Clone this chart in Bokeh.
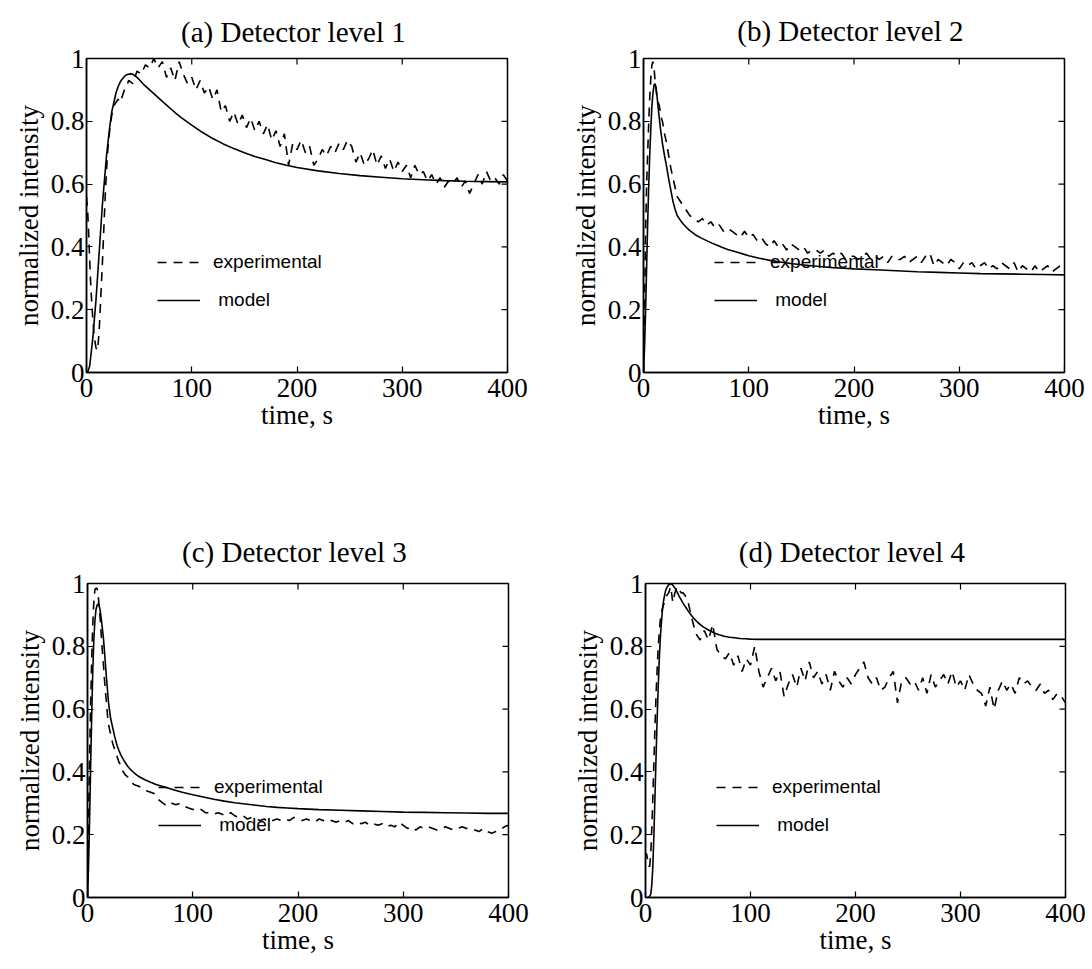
import math
from bokeh.plotting import figure
from bokeh.layouts import column, row
from bokeh.models import Range1d, FixedTicker, Legend, LegendItem, Spacer
from bokeh.embed import file_html
from bokeh.resources import INLINE

# ---------------- data ----------------
titles = ["(a) Detector  level 1", "(b) Detector  level 2",
          "(c) Detector  level 3", "(d) Detector  level 4"]
x_ticks = [0, 100, 200, 300, 400]
y_ticks = [0, 0.2, 0.4, 0.6, 0.8, 1]
y_tick_labels = ["0", "0.2", "0.4", "0.6", "0.8", "1"]

t_model = [0, 1, 2, 3, 4, 5, 6, 7, 8, 9, 10, 11, 12, 13, 14, 15, 16, 17, 18, 19, 20,
           22, 24, 26, 28, 30, 32, 34, 36, 38, 40, 42, 44, 46, 48, 50,
           55, 60, 65, 70, 75, 80, 85, 90, 95, 100,
           110, 120, 130, 140, 150, 160, 170, 180, 190, 200,
           220, 240, 260, 280, 300, 320, 340, 360, 380, 400]

model_a = [0, 0.0, 0.01, 0.02, 0.05, 0.08, 0.11, 0.15, 0.19, 0.23, 0.28, 0.33, 0.38, 0.43, 0.48, 0.53, 0.57, 0.61, 0.65, 0.69, 0.72,
           0.78, 0.83, 0.86, 0.89, 0.91, 0.925, 0.935, 0.943, 0.948, 0.95, 0.951, 0.95, 0.945, 0.94, 0.933,
           0.915, 0.90, 0.885, 0.87, 0.855, 0.84, 0.825, 0.812, 0.8, 0.788,
           0.765, 0.745, 0.728, 0.713, 0.70, 0.688, 0.678, 0.668, 0.66, 0.653,
           0.642, 0.634, 0.627, 0.622, 0.617, 0.614, 0.611, 0.609, 0.608, 0.607]
model_b = [0, 0.08, 0.2, 0.34, 0.48, 0.6, 0.7, 0.78, 0.85, 0.89, 0.915, 0.92, 0.905, 0.875, 0.84, 0.81, 0.78, 0.755, 0.73, 0.71, 0.69,
           0.655, 0.615, 0.58, 0.545, 0.52, 0.5, 0.49, 0.48, 0.472, 0.465, 0.458, 0.452, 0.447, 0.442, 0.437,
           0.428, 0.42, 0.412, 0.405, 0.398, 0.392, 0.387, 0.382, 0.377, 0.372,
           0.364, 0.357, 0.352, 0.347, 0.343, 0.34, 0.337, 0.334, 0.332, 0.33,
           0.327, 0.324, 0.321, 0.319, 0.317, 0.315, 0.314, 0.313, 0.312, 0.311]
model_c = [0, 0.1, 0.25, 0.42, 0.58, 0.72, 0.82, 0.88, 0.915, 0.93, 0.935, 0.93, 0.915, 0.89, 0.86, 0.83, 0.79, 0.745, 0.70, 0.66, 0.62,
           0.57, 0.54, 0.51, 0.485, 0.467, 0.452, 0.44, 0.429, 0.419, 0.411, 0.404, 0.398, 0.392, 0.387, 0.383,
           0.374, 0.367, 0.36, 0.355, 0.35, 0.345, 0.34, 0.335, 0.331, 0.327,
           0.32, 0.313, 0.307, 0.302, 0.298, 0.294, 0.29, 0.287, 0.285, 0.283,
           0.28, 0.278, 0.276, 0.274, 0.272, 0.271, 0.27, 0.269, 0.268, 0.268]
model_d = [0, 0, 0, 0, 0.005, 0.01, 0.04, 0.1, 0.2, 0.32, 0.44, 0.56, 0.66, 0.75, 0.82, 0.87, 0.91, 0.94, 0.96, 0.975, 0.985,
           0.996, 1.0, 0.995, 0.985, 0.973, 0.96, 0.948, 0.936, 0.926, 0.916, 0.906, 0.897, 0.889, 0.882, 0.875,
           0.862, 0.852, 0.843, 0.837, 0.832, 0.829, 0.827, 0.825, 0.824, 0.823,
           0.822, 0.822, 0.822, 0.822, 0.822, 0.822, 0.822, 0.822, 0.822, 0.822,
           0.822, 0.822, 0.822, 0.822, 0.822, 0.822, 0.822, 0.822, 0.822, 0.822]

# experimental sampling times (s)
t_exp = list(range(0, 21)) + list(range(22, 41, 2)) + list(range(44, 401, 4))

exp_a = ([0.56, 0.52, 0.45, 0.36, 0.28, 0.22, 0.17, 0.13, 0.10, 0.08, 0.07, 0.09, 0.13, 0.20, 0.27, 0.34, 0.42, 0.50, 0.58, 0.64, 0.70]
         + [0.77, 0.82, 0.85, 0.86, 0.87, 0.86, 0.88, 0.90, 0.91, 0.93]
         + [0.92, 0.96, 0.95, 0.98, 0.97, 1.00, 0.97, 0.99, 0.94, 0.97,
            0.93, 0.99, 0.95, 0.92, 0.94, 0.90, 0.93, 0.89, 0.91, 0.87,
            0.90, 0.83, 0.85, 0.80, 0.83, 0.79, 0.82, 0.78, 0.81, 0.77,
            0.80, 0.76, 0.79, 0.74, 0.77, 0.72, 0.76, 0.66, 0.73, 0.71,
            0.74, 0.70, 0.72, 0.66, 0.68, 0.71, 0.69, 0.72, 0.70, 0.73,
            0.71, 0.74, 0.72, 0.67, 0.70, 0.66, 0.68, 0.71, 0.66, 0.69,
            0.65, 0.68, 0.64, 0.67, 0.64, 0.66, 0.62, 0.66, 0.63, 0.64,
            0.61, 0.63, 0.60, 0.62, 0.59, 0.61, 0.60, 0.62, 0.59, 0.61,
            0.57, 0.60, 0.63, 0.60, 0.64, 0.61, 0.62, 0.60, 0.63, 0.61])
exp_b = ([0.0, 0.2, 0.45, 0.6, 0.7, 0.8, 0.88, 0.94, 0.98, 0.99, 0.97, 0.93, 0.9, 0.87, 0.86, 0.85, 0.83, 0.81, 0.8, 0.78, 0.76]
         + [0.73, 0.69, 0.65, 0.62, 0.59, 0.56, 0.55, 0.54, 0.53, 0.52]
         + [0.50, 0.49, 0.48, 0.49, 0.47, 0.48, 0.46, 0.47, 0.45, 0.46,
            0.45, 0.44, 0.43, 0.45, 0.43, 0.44, 0.42, 0.43, 0.41, 0.40,
            0.42, 0.40, 0.41, 0.39, 0.41, 0.40, 0.39, 0.40, 0.38, 0.39,
            0.39, 0.38, 0.39, 0.37, 0.38, 0.37, 0.38, 0.36, 0.37, 0.37,
            0.36, 0.37, 0.38, 0.36, 0.37, 0.36, 0.37, 0.35, 0.37, 0.36,
            0.36, 0.37, 0.35, 0.36, 0.37, 0.35, 0.37, 0.38, 0.34, 0.36,
            0.35, 0.34, 0.36, 0.35, 0.33, 0.35, 0.34, 0.35, 0.33, 0.34,
            0.35, 0.33, 0.34, 0.33, 0.35, 0.34, 0.33, 0.35, 0.32, 0.34,
            0.33, 0.32, 0.34, 0.32, 0.33, 0.34, 0.32, 0.33, 0.34, 0.33])
exp_c = ([0.0, 0.25, 0.45, 0.62, 0.76, 0.87, 0.94, 0.98, 0.985, 0.985, 0.97, 0.93, 0.89, 0.84, 0.79, 0.75, 0.70, 0.66, 0.62, 0.58, 0.55]
         + [0.52, 0.49, 0.47, 0.45, 0.43, 0.42, 0.40, 0.39, 0.385, 0.375]
         + [0.36, 0.355, 0.35, 0.34, 0.335, 0.33, 0.31, 0.30, 0.29, 0.30,
            0.295, 0.30, 0.29, 0.285, 0.28, 0.285, 0.28, 0.27, 0.27, 0.265,
            0.27, 0.265, 0.26, 0.27, 0.26, 0.255, 0.26, 0.25, 0.255, 0.25,
            0.245, 0.25, 0.24, 0.245, 0.25, 0.245, 0.25, 0.245, 0.255, 0.25,
            0.245, 0.25, 0.245, 0.24, 0.25, 0.245, 0.24, 0.245, 0.24, 0.245,
            0.24, 0.245, 0.235, 0.24, 0.235, 0.24, 0.23, 0.235, 0.23, 0.235,
            0.225, 0.23, 0.225, 0.24, 0.23, 0.22, 0.225, 0.215, 0.225, 0.22,
            0.225, 0.22, 0.215, 0.22, 0.225, 0.22, 0.215, 0.22, 0.225, 0.22,
            0.22, 0.215, 0.21, 0.22, 0.21, 0.205, 0.21, 0.215, 0.225, 0.23])
exp_d = ([0.13, 0.14, 0.12, 0.10, 0.10, 0.14, 0.22, 0.32, 0.43, 0.54, 0.64, 0.72, 0.79, 0.84, 0.88, 0.90, 0.92, 0.93, 0.94, 0.95, 0.96]
         + [0.97, 0.99, 0.94, 0.97, 0.99, 0.98, 0.97, 0.97, 0.96, 0.95]
         + [0.89, 0.84, 0.82, 0.85, 0.82, 0.87, 0.79, 0.77, 0.76, 0.78,
            0.74, 0.77, 0.72, 0.76, 0.74, 0.80, 0.72, 0.67, 0.70, 0.73,
            0.69, 0.72, 0.64, 0.68, 0.71, 0.67, 0.73, 0.69, 0.75, 0.70,
            0.72, 0.68, 0.71, 0.66, 0.72, 0.69, 0.67, 0.70, 0.68, 0.71,
            0.73, 0.75, 0.70, 0.68, 0.70, 0.66, 0.67, 0.70, 0.72, 0.62,
            0.69, 0.70, 0.68, 0.69, 0.66, 0.70, 0.65, 0.71, 0.67, 0.69,
            0.71, 0.68, 0.72, 0.67, 0.69, 0.66, 0.71, 0.68, 0.66, 0.65,
            0.61, 0.67, 0.60, 0.66, 0.69, 0.66, 0.68, 0.65, 0.70, 0.68,
            0.69, 0.67, 0.66, 0.68, 0.65, 0.66, 0.63, 0.65, 0.64, 0.62])

models = [model_a, model_b, model_c, model_d]
exps = [exp_a, exp_b, exp_c, exp_d]

# ---------------- styling ----------------
SERIF = "Liberation Serif"
SANS = "Liberation Sans"
FS = "27px"
TITLE_FS = "29px"

# (width, height, left, right, top, bottom, title standoff) for each panel
geoms = [(546, 470, 86, 39, 53, 98, 22),
         (546, 470, 97, 28, 58, 96, 24),
         (546, 451, 87, 38, 64, 72, 31),
         (546, 451, 99, 27, 65, 71, 31)]


def style_axis(ax):
    ax.axis_line_color = "black"
    ax.axis_line_width = 1.5
    ax.major_tick_in = 6
    ax.major_tick_out = 0
    ax.major_tick_line_color = "black"
    ax.major_tick_line_width = 1.2
    ax.minor_tick_line_color = None
    ax.major_label_text_font = SERIF
    ax.major_label_text_color = "black"
    ax.major_label_text_font_size = FS
    ax.axis_label_text_font = SERIF
    ax.axis_label_text_font_size = FS
    ax.axis_label_text_font_style = "normal"
    ax.axis_label_text_color = "black"
    ax.axis_label_standoff = 0


def make_panel(i):
    w, h, bl, br, bt, bb, ts = geoms[i]
    p = figure(width=w, height=h, output_backend="svg", toolbar_location=None,
               x_range=Range1d(0, 400), y_range=Range1d(0, 1),
               min_border_left=bl, min_border_right=br,
               min_border_top=bt, min_border_bottom=bb,
               x_axis_label="time, s", y_axis_label="normalized intensity")
    p.background_fill_color = "white"
    p.border_fill_color = "white"
    p.outline_line_color = "black"
    p.outline_line_width = 1.5
    p.xgrid.visible = False
    p.ygrid.visible = False

    p.title.text = titles[i]
    p.title.text_font = SERIF
    p.title.text_font_size = TITLE_FS
    p.title.text_font_style = "normal"
    p.title.text_color = "black"
    p.title.align = "center"
    p.title.standoff = ts

    xa = p.xaxis[0]
    ya = p.yaxis[0]
    xa.ticker = FixedTicker(ticks=x_ticks)
    ya.ticker = FixedTicker(ticks=y_ticks)
    ya.major_label_overrides = {v: s for v, s in zip(y_ticks, y_tick_labels)}
    style_axis(xa)
    style_axis(ya)
    xa.major_label_standoff = 6
    ya.major_label_standoff = 2
    ya.axis_label_standoff = 4

    # inward ticks on the top and right edges of the box
    p.ray(x=x_ticks, y=[y_ticks[-1]] * len(x_ticks), length=6, length_units="screen",
          angle=-math.pi / 2, line_color="black", line_width=1.2)
    p.ray(x=[x_ticks[-1]] * len(y_ticks), y=y_ticks, length=6, length_units="screen",
          angle=math.pi, line_color="black", line_width=1.2)

    r_exp = p.line(t_exp, exps[i], line_color="black", line_width=1.6,
                   line_dash="9 7")
    r_mod = p.line(t_model, models[i], line_color="black", line_width=1.6)

    legend = Legend(items=[LegendItem(label="experimental", renderers=[r_exp]),
                           LegendItem(label=" model", renderers=[r_mod])],
                    location=(71, 61))
    legend.background_fill_alpha = 0
    legend.border_line_color = None
    legend.padding = 0
    legend.margin = 0
    legend.spacing = 16
    legend.glyph_width = 43
    legend.glyph_height = 22
    legend.label_height = 22
    legend.label_standoff = 13
    legend.label_text_font = SANS
    legend.label_text_font_size = "19px"
    legend.label_text_color = "black"
    p.add_layout(legend)
    return p


panels = [make_panel(i) for i in range(4)]
layout = column(row(panels[0], panels[1]),
                Spacer(width=1092, height=48),
                row(panels[2], panels[3]))

open("out.html", "w").write(file_html(layout, INLINE))
